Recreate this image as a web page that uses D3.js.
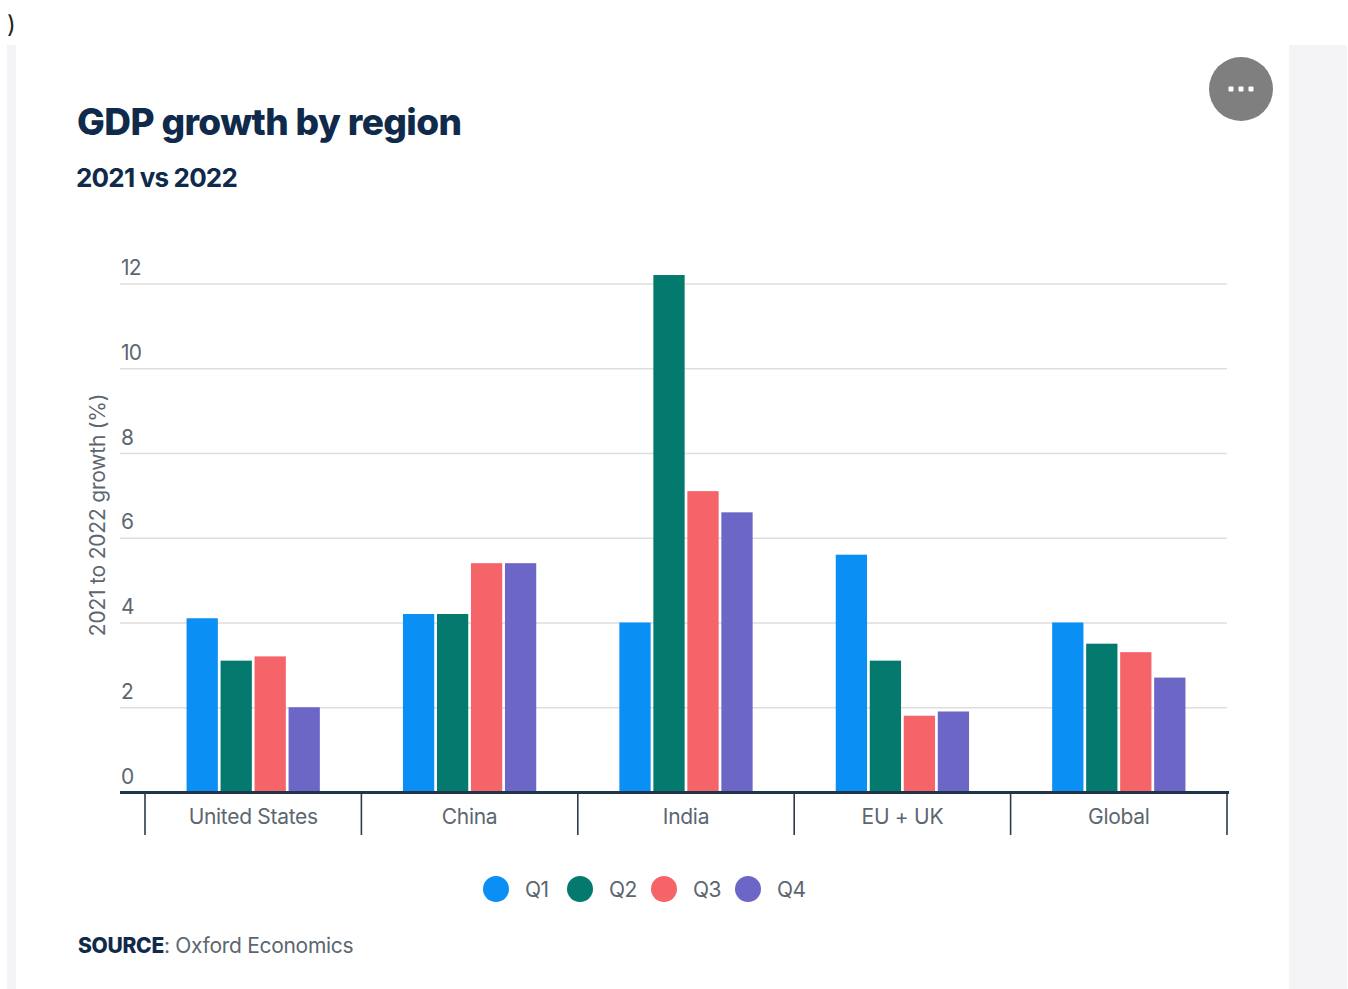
<!DOCTYPE html>
<html>
<head>
<meta charset="utf-8">
<script src="https://cdn.jsdelivr.net/npm/d3@7/dist/d3.min.js"></script>
<style>
  html, body { margin: 0; padding: 0; background: #fff; overflow: hidden; }
  svg { display: block; font-family: Inter, "Noto Sans", sans-serif; }
</style>
</head>
<body>
<svg id="chart" width="1348" height="989"></svg>
<script>
const regions = ["United States", "China", "India", "EU + UK", "Global"];
const quarters = ["Q1", "Q2", "Q3", "Q4"];
const q1Values = [4.1, 4.2, 4.0, 5.6, 4.0];
const q2Values = [3.1, 4.2, 12.2, 3.1, 3.5];
const q3Values = [3.2, 5.4, 7.1, 1.8, 3.3];
const q4Values = [2.0, 5.4, 6.6, 1.9, 2.7];
const quarterColors = ["#0a8ff5", "#047a6e", "#f56469", "#6c66c6"];
const yTicks = [0, 2, 4, 6, 8, 10, 12];

const series = [q1Values, q2Values, q3Values, q4Values];
const ink = "#0f2a4a";
const muted = "#5c6670";

const svg = d3.select("#chart");

// Page furniture around the chart card
svg.append("rect").attr("x", 7).attr("y", 45).attr("width", 9).attr("height", 944).attr("fill", "#f4f4f6");
svg.append("rect").attr("x", 1289).attr("y", 45).attr("width", 58).attr("height", 944).attr("fill", "#f4f4f6");
svg.append("text").attr("x", 7).attr("y", 33).attr("font-size", 24).attr("fill", "#222").text(")");

// Heading block
svg.append("text").attr("x", 77).attr("y", 135).attr("font-size", 37).attr("font-weight", 800)
  .attr("letter-spacing", -0.6).attr("fill", ink).text("GDP growth by region");
svg.append("text").attr("x", 76).attr("y", 187).attr("font-size", 26).attr("font-weight", 700)
  .attr("letter-spacing", -0.8).attr("fill", ink).text("2021 vs 2022");

// Menu button
const menu = svg.append("g").attr("transform", "translate(1241,89)");
menu.append("circle").attr("r", 32).attr("fill", "#7f7f7f");
menu.selectAll("rect").data([-10, 0, 10]).join("rect")
  .attr("x", d => d - 2.5).attr("y", -2.5).attr("width", 5).attr("height", 5).attr("rx", 1).attr("fill", "#fff");

// Scales
const y = d3.scaleLinear().domain([0, 12]).range([792, 283.5]);
const x = d3.scaleBand().domain(regions).range([145, 1227]);
const inner = d3.scaleBand().domain(quarters).range([-68, 68]).paddingInner(0.08).paddingOuter(0.04);

// Horizontal gridlines and value labels
const yAxis = svg.append("g").attr("transform", "translate(120,0)")
  .call(d3.axisRight(y).tickValues(yTicks).tickSize(1107).tickFormat(d3.format("d")));
yAxis.select(".domain").remove();
yAxis.selectAll(".tick line").attr("stroke", "#dedede").attr("stroke-width", 1.4);
yAxis.selectAll(".tick text")
  .attr("x", 1).attr("dy", 0).attr("y", -9)
  .attr("text-anchor", "start").attr("font-size", 21).attr("letter-spacing", -0.8)
  .attr("font-family", "Inter, sans-serif").attr("fill", muted);

// Vertical axis title
svg.append("text").attr("transform", "translate(105,515) rotate(-90)")
  .attr("text-anchor", "middle").attr("font-size", 21).attr("letter-spacing", -0.2)
  .attr("fill", muted).text("2021 to 2022 growth (%)");

// Bars, one group per region
const groups = svg.append("g").selectAll("g").data(regions).join("g")
  .attr("transform", d => `translate(${x(d) + x.bandwidth() / 2},0)`);
groups.selectAll("rect")
  .data((region, i) => quarters.map((q, k) => ({ q, k, value: series[k][i] })))
  .join("rect")
  .attr("x", d => inner(d.q))
  .attr("width", inner.bandwidth())
  .attr("y", d => y(d.value))
  .attr("height", d => y(0) - y(d.value))
  .attr("fill", d => quarterColors[d.k]);

// Category axis: separators run below the baseline, labels sit between them
const boundaries = regions.map(r => x(r)).concat([x.range()[1]]);
svg.append("g").selectAll("line").data(boundaries).join("line")
  .attr("x1", d => d).attr("x2", d => d).attr("y1", 792).attr("y2", 835)
  .attr("stroke", "#2c3a4c").attr("stroke-width", 1.6);
svg.append("line").attr("x1", 120).attr("x2", 1229).attr("y1", 792.5).attr("y2", 792.5)
  .attr("stroke", "#22344a").attr("stroke-width", 3);
svg.append("g").selectAll("text").data(regions).join("text")
  .attr("x", d => x(d) + x.bandwidth() / 2).attr("y", 824)
  .attr("text-anchor", "middle").attr("font-size", 21).attr("letter-spacing", -0.3)
  .attr("fill", muted).text(d => d);

// Legend
const legendX = d3.scalePoint().domain(quarters).range([496, 748]);
const legend = svg.append("g").selectAll("g").data(quarters).join("g")
  .attr("transform", d => `translate(${legendX(d)},889)`);
legend.append("circle").attr("r", 13).attr("fill", (d, i) => quarterColors[i]);
legend.append("text").attr("x", 29).attr("y", 8).attr("font-size", 21).attr("letter-spacing", -0.5)
  .attr("fill", muted).text(d => d);

// Source line
const source = svg.append("text").attr("x", 78).attr("y", 953).attr("font-size", 21).attr("letter-spacing", -0.3).attr("fill", muted);
source.append("tspan").attr("font-weight", 800).attr("fill", ink).text("SOURCE");
source.append("tspan").text(": Oxford Economics");
</script>
</body>
</html>
